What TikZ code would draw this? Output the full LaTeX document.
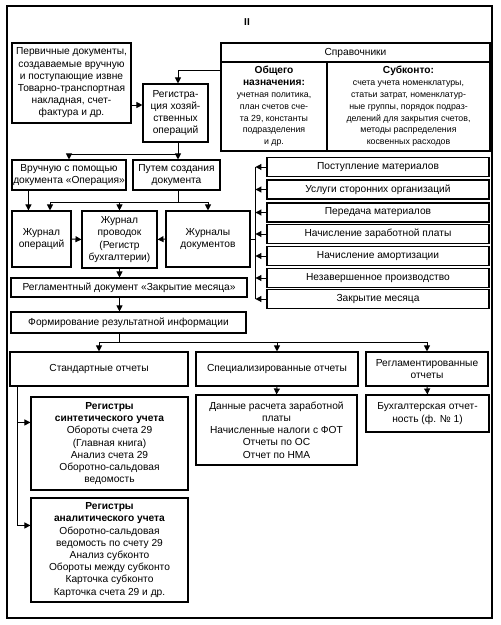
\documentclass[tikz,border=0pt]{standalone}
\usepackage{fontspec}
\setmainfont{Liberation Sans}
\usetikzlibrary{calc,arrows.meta}
\newcommand{\bh}[1]{{\fontsize{10.2}{11.8}\selectfont\bfseries #1}}
\begin{document}
\begin{tikzpicture}[x=1pt,y=-1pt,
  box/.style={draw,line width=1.1pt,align=center,inner sep=1pt,
    font=\fontsize{10.2}{12.2}\selectfont},
  small/.style={box,font=\fontsize{8.8}{11.8}\selectfont},
  arr/.style={line width=1pt,-{Triangle[length=6pt,width=6pt]}},
  ln/.style={line width=1pt}]
\useasboundingbox (0,0) rectangle (501,625);
\draw[line width=1.5pt] (7,6) rectangle (492,618);
\node[font=\bfseries\fontsize{10}{12}\selectfont] (title) at (247,22) {II};

\node[box,minimum width=119pt,minimum height=80pt] (prim) at (71.5,83)
 {Первичные документы,\\создаваемые вручную\\и поступающие извне\\Товарно-транспортная\\накладная, счет-\\фактура и др.};
\node[box,minimum width=65pt,minimum height=58pt] (reg) at (175.5,113)
 {Регистра-\\ция хозяй-\\ственных\\операций};

\node[box,minimum width=269pt,minimum height=19pt] (sprh) at (355.5,52.5) {Справочники};
\node[small,minimum width=106pt,minimum height=89pt] (sprL) at (274,106.5)
 {\bh{Общего}\\\bh{назначения:}\\учетная политика,\\план счетов сче-\\та 29, константы\\подразделения\\и др.};
\node[small,minimum width=163pt,minimum height=89pt] (sprR) at (408.5,106.5)
 {\bh{Субконто:}\\счета учета номенклатуры,\\статьи затрат, номенклатур-\\ные группы, порядок подраз-\\делений для закрытия счетов,\\методы распределения\\косвенных расходов};

\node[box,minimum width=114pt,minimum height=30pt] (vruch) at (69,175)
 {Вручную с помощью\\документа «Операция»};
\node[box,minimum width=87pt,minimum height=30pt] (put) at (176.5,175)
 {Путем создания\\документа};

\node[box,minimum width=59pt,minimum height=56pt] (jo) at (41.5,239) {Журнал\\операций};
\node[box,minimum width=75pt,minimum height=57pt] (jp) at (119.5,239.5)
 {Журнал\\проводок\\(Регистр\\бухгалтерии)};
\node[box,minimum width=84pt,minimum height=56pt] (jd) at (208,239) {Журналы\\документов};

\node[box,minimum width=236pt,minimum height=19pt] (reglam) at (129,287.5)
 {Регламентный документ «Закрытие месяца»};
\node[box,minimum width=235pt,minimum height=21pt] (form) at (128.5,322.5)
 {Формирование результатной информации};

\node[box,minimum width=178pt,minimum height=34pt] (std) at (99,369) {Стандартные отчеты};
\node[box,minimum width=162pt,minimum height=34pt] (spec) at (277,369) {Специализированные отчеты};
\node[box,minimum width=122pt,minimum height=34pt] (regl) at (427,369) {Регламентированные\\отчеты};

\node[box,minimum width=157pt,minimum height=93pt] (synth) at (109.5,443.5)
 {\textbf{Регистры}\\\textbf{синтетического учета}\\Обороты счета 29\\(Главная книга)\\Анализ счета 29\\Оборотно-сальдовая\\ведомость};
\node[box,minimum width=157pt,minimum height=104pt] (anal) at (109.5,550)
 {\textbf{Регистры}\\\textbf{аналитического учета}\\Оборотно-сальдовая\\ведомость по счету 29\\Анализ субконто\\Обороты между субконто\\Карточка субконто\\Карточка счета 29 и др.};
\node[box,minimum width=161pt,minimum height=70pt] (dann) at (276.5,430)
 {Данные расчета заработной\\платы\\Начисленные налоги с ФОТ\\Отчеты по ОС\\Отчет по НМА};
\node[box,minimum width=123pt,minimum height=37pt] (buh) at (427.5,413.5)
 {Бухгалтерская отчет-\\ность (ф. № 1)};

\foreach \n/\y/\t in {r1/167/Поступление материалов,r2/189.5/Услуги сторонних организаций,
  r3/212.5/Передача материалов,r4/234/Начисление заработной платы,
  r5/256/Начисление амортизации,r6/278/Незавершенное производство,r7/299/Закрытие месяца}
  \node[box,minimum width=222pt,minimum height=19pt] (\n) at (378,\y) {\t};

% connectors
\coordinate (ra) at ($(reg.west)+(0,-8)$);
\draw[arr] (prim.east |- ra) -- (ra);
\coordinate (rtop) at ($(reg.north)+(2.5,0)$);
\coordinate (sl) at ($(sprL.north west)+(0,9)$);
\draw[arr] (sl) -| (rtop);
\draw[arr] (rtop |- reg.south) -- (rtop |- put.north);
\draw[arr] ($(rtop |- reg.south)+(0,12)$) -| (vruch.north);

\coordinate (vx) at ($(jo.north west)+(17,0)$);
\draw[arr] (vx |- vruch.south) -- (vx);
\coordinate (jo50) at ($(jo.north)+(8.5,0)$);
\draw[ln] (rtop |- put.south) -- ($(rtop |- put.south)+(0,12)$) coordinate (pj);
\draw[arr] (pj) -| (jd.north);
\draw[arr] (pj) -| (jo50);
\draw[arr] (pj -| jp.north) -- (jp.north);
\draw[arr] (jo.east) -- (jp.west);
\draw[arr] (jd.west) -- (jp.east);
\draw[arr] (jp.south) -- (jp.south |- reglam.north);
\draw[arr] (reglam.south -| jp.south) -- (form.north -| jp.south);

\draw[ln] (form.south -| jp.south) -- ($(form.south -| jp.south)+(0,9)$) coordinate (fj);
\draw[arr] (fj) -| (std.north);
\draw[arr] (fj) -| (regl.north);
\draw[arr] (fj -| spec.north) -- (spec.north);
\draw[arr] (spec.south) -- (dann.north);
\draw[arr] (regl.south) -- (buh.north);

\coordinate (sx) at ($(std.south west)+(8,0)$);
\coordinate (s1) at ($(synth.north west)+(0,26)$);
\coordinate (a1) at ($(anal.north west)+(0,28)$);
\draw[arr] (sx) |- (a1);
\draw[arr] (sx |- s1) -- (s1);

\coordinate (bx) at ($(r1.west)+(-11,0)$);
\draw[ln] (bx) -- (bx |- r7.west);
\draw[ln] (jd.east) -- (jd.east -| bx);
\foreach \n in {r1,r2,r3,r4,r5,r6,r7}
  \draw[arr] (\n.west) -- (\n.west -| bx);
\end{tikzpicture}
\end{document}
